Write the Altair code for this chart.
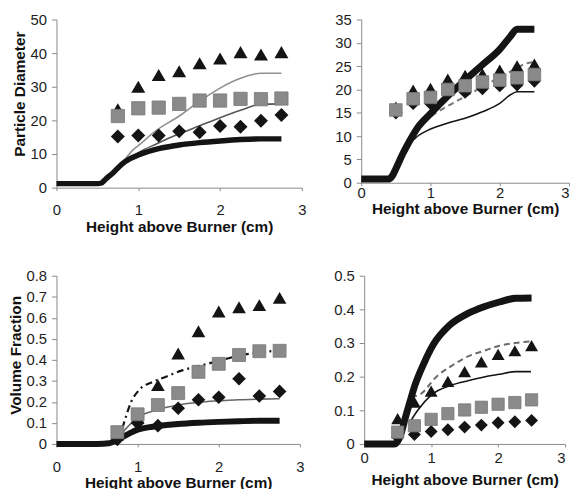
import altair as alt
import pandas as pd

# ---------------- data ----------------
X_A = [0.75, 1.0, 1.25, 1.5, 1.75, 2.0, 2.25, 2.5, 2.75]
X_B = [0.5, 0.75, 1.0, 1.25, 1.5, 1.75, 2.0, 2.25, 2.5]

# Panel 1: particle diameter (top-left)
p1_tri = [23.3, 30.0, 33.5, 34.6, 37.0, 38.4, 40.3, 39.6, 40.3]
p1_sq = [21.3, 23.6, 23.8, 24.9, 25.9, 25.9, 26.4, 26.3, 26.5]
p1_dia = [15.2, 15.5, 15.5, 16.8, 16.5, 18.3, 18.1, 19.9, 21.6]
p1_thick_x = [0, 0.25, 0.5, 0.55, 0.6, 0.7, 0.8, 0.9, 1.0, 1.25, 1.5, 1.75, 2.0, 2.25, 2.5, 2.75]
p1_thick_y = [1.2, 1.2, 1.2, 1.4, 2.5, 4.6, 7.0, 8.6, 9.7, 11.6, 12.7, 13.4, 13.9, 14.3, 14.5, 14.5]
p1_thinA_x = [0.7, 0.8, 0.93, 1.0, 1.22, 1.5, 1.75, 2.0, 2.25, 2.5, 2.75]
p1_thinA_y = [4.6, 7.3, 11.1, 12.5, 17.0, 21.3, 25.7, 29.6, 32.5, 34.0, 34.0]
p1_thinB_x = [0.7, 0.8, 0.93, 1.0, 1.22, 1.5, 1.75, 2.0, 2.25, 2.5, 2.75]
p1_thinB_y = [4.6, 7.1, 9.3, 10.4, 13.0, 16.0, 18.4, 20.8, 23.0, 24.8, 24.9]

# Panel 2: particle diameter (top-right)
p2_tri = [16.2, 19.8, 20.2, 22.2, 23.0, 23.3, 24.1, 25.0, 25.4]
p2_sq = [15.6, 18.0, 18.3, 20.0, 20.8, 21.6, 22.0, 22.5, 23.2]
p2_dia = [15.0, 17.0, 17.0, 19.3, 19.4, 20.2, 20.8, 21.0, 21.8]
p2_thick_x = [0, 0.25, 0.4, 0.45, 0.5, 0.6, 0.7, 0.8, 1.0, 1.25, 1.5, 1.75, 2.0, 2.15, 2.25, 2.5]
p2_thick_y = [0.8, 0.8, 0.8, 1.5, 3.0, 6.2, 9.0, 11.5, 14.8, 18.6, 22.0, 25.3, 28.6, 31.3, 32.9, 32.9]
p2_dash_x = [0.8, 1.0, 1.15, 1.38, 1.6, 1.8, 2.0, 2.2, 2.37, 2.5]
p2_dash_y = [11.5, 14.2, 15.6, 17.5, 19.3, 21.0, 22.6, 24.2, 25.5, 25.9]
p2_thin_x = [0.6, 0.7, 0.8, 1.0, 1.25, 1.5, 1.75, 2.0, 2.15, 2.25, 2.5]
p2_thin_y = [6.2, 8.3, 9.8, 11.5, 12.8, 13.8, 15.2, 17.0, 18.8, 19.5, 19.5]

# Panel 3: volume fraction (bottom-left)
p3_tri = [0.045, 0.125, 0.28, 0.43, 0.536, 0.63, 0.65, 0.66, 0.695]
p3_sq = [0.056, 0.141, 0.185, 0.242, 0.343, 0.381, 0.423, 0.441, 0.443]
p3_dia = [0.022, 0.10, 0.087, 0.17, 0.21, 0.222, 0.31, 0.228, 0.25]
p3_thick_x = [0, 0.25, 0.5, 0.65, 0.75, 0.9, 1.0, 1.25, 1.5, 1.75, 2.0, 2.25, 2.5, 2.75]
p3_thick_y = [0, 0, 0, 0.003, 0.02, 0.05, 0.068, 0.085, 0.095, 0.101, 0.105, 0.108, 0.11, 0.11]
p3_dd_x = [0.74, 0.8, 0.84, 0.92, 1.02, 1.19, 1.35, 1.55, 1.75, 2.0, 2.25, 2.5, 2.75]
p3_dd_y = [0.0, 0.06, 0.11, 0.2, 0.257, 0.296, 0.32, 0.35, 0.37, 0.395, 0.42, 0.435, 0.445]
p3_thin_x = [0.75, 0.85, 1.0, 1.25, 1.5, 1.75, 2.0, 2.25, 2.5, 2.75]
p3_thin_y = [0.02, 0.07, 0.125, 0.163, 0.185, 0.198, 0.205, 0.21, 0.213, 0.215]

# Panel 4: volume fraction (bottom-right)
p4_tri = [0.075, 0.124, 0.157, 0.186, 0.215, 0.244, 0.266, 0.277, 0.292]
p4_sq = [0.035, 0.054, 0.073, 0.09, 0.101, 0.109, 0.118, 0.123, 0.131]
p4_dia = [0.02, 0.028, 0.037, 0.042, 0.05, 0.056, 0.063, 0.066, 0.07]
p4_thick_x = [0, 0.25, 0.45, 0.5, 0.55, 0.61, 0.68, 0.75, 0.89, 1.03, 1.27, 1.55, 1.79, 2.02, 2.26, 2.5]
p4_thick_y = [0, 0, 0, 0.008, 0.03, 0.075, 0.123, 0.17, 0.239, 0.295, 0.352, 0.388, 0.408, 0.422, 0.433, 0.434]
p4_dash_x = [0.7, 0.84, 1.08, 1.32, 1.55, 1.79, 2.02, 2.26, 2.49]
p4_dash_y = [0.14, 0.148, 0.2, 0.234, 0.26, 0.277, 0.292, 0.3, 0.305]
p4_thin_x = [0.7, 0.8, 1.0, 1.32, 1.55, 1.79, 2.02, 2.26, 2.49]
p4_thin_y = [0.07, 0.1, 0.145, 0.176, 0.188, 0.199, 0.207, 0.215, 0.215]

X_TICKS = [0, 1, 2, 3]
X_TITLE = "Height above Burner (cm)"
BLACK = "#141414"
SQ_GRAY = "#8a8a8a"


def xy_df(xs, ys):
    return pd.DataFrame({"x": xs, "y": ys})


def panel(lines, tri, sq, dia, xs_pts, ydomain, yvalues, width, height,
          ytitle=None, yfmt="d", label_pad=12, title_pad=2, msize=200, title_y=None,
          flush_last=False):
    xaxis_kwargs = dict(values=X_TICKS, format="d", title=X_TITLE,
                        labelPadding=label_pad, titlePadding=title_pad,
                        labelFlush=False, labelOverlap=False, tickSize=3)
    if flush_last:
        xaxis_kwargs["labelAlign"] = {"condition": {"test": "datum.value == 3", "value": "right"},
                                      "value": "center"}
    xenc = alt.X("x:Q", scale=alt.Scale(domain=[0, 3], nice=False),
                 axis=alt.Axis(**xaxis_kwargs))
    if yfmt == "d":
        lexpr = "format(datum.value, 'd')"
    else:
        lexpr = "datum.value == 0 ? '0' : format(datum.value, '.1f')"
    yaxis_kwargs = dict(values=yvalues, labelExpr=lexpr, labelPadding=5,
                        tickSize=5, labelOverlap=False)
    if ytitle:
        yaxis_kwargs["title"] = ytitle
        yaxis_kwargs["titlePadding"] = 3
        if title_y is not None:
            yaxis_kwargs["titleY"] = title_y
    else:
        yaxis_kwargs["title"] = None
    yenc = alt.Y("y:Q", scale=alt.Scale(domain=ydomain, nice=False),
                 axis=alt.Axis(**yaxis_kwargs))

    layers = []
    for (xs, ys, style) in lines:
        layers.append(
            alt.Chart(xy_df(xs, ys)).mark_line(interpolate="monotone", **style)
            .encode(x=xenc, y=yenc)
        )
    layers.append(
        alt.Chart(xy_df(xs_pts, dia)).mark_point(
            shape="diamond", filled=True, color=BLACK, opacity=1, size=msize)
        .encode(x=xenc, y=yenc)
    )
    layers.append(
        alt.Chart(xy_df(xs_pts, tri)).mark_point(
            shape="triangle-up", filled=True, color=BLACK, opacity=1, size=msize)
        .encode(x=xenc, y=yenc)
    )
    layers.append(
        alt.Chart(xy_df(xs_pts, sq)).mark_point(
            shape="square", filled=True, color=SQ_GRAY, opacity=1, size=msize * 0.9,
            stroke="#777777", strokeWidth=0.8)
        .encode(x=xenc, y=yenc)
    )
    return alt.layer(*layers).properties(width=width, height=height)


p1 = panel(
    [(p1_thinA_x, p1_thinA_y, dict(color="#8f8f8f", strokeWidth=1.6)),
     (p1_thinB_x, p1_thinB_y, dict(color="#555555", strokeWidth=1.6)),
     (p1_thick_x, p1_thick_y, dict(color=BLACK, strokeWidth=5.5))],
    p1_tri, p1_sq, p1_dia, X_A, [0, 50], [0, 10, 20, 30, 40, 50], 248, 170,
    ytitle="Particle Diameter", label_pad=12, title_pad=2, msize=200, title_y=75)

p2 = panel(
    [(p2_dash_x, p2_dash_y, dict(color="#777777", strokeWidth=2, strokeDash=[6, 4])),
     (p2_thin_x, p2_thin_y, dict(color=BLACK, strokeWidth=1.6)),
     (p2_thick_x, p2_thick_y, dict(color=BLACK, strokeWidth=7))],
    p2_tri, p2_sq, p2_dia, X_B, [0, 35], [0, 5, 10, 15, 20, 25, 30, 35], 210, 165,
    label_pad=0, title_pad=1, msize=180, flush_last=True)

p3 = panel(
    [(p3_thin_x, p3_thin_y, dict(color="#666666", strokeWidth=1.6)),
     (p3_dd_x, p3_dd_y, dict(color=BLACK, strokeWidth=2.2, strokeDash=[7, 4, 2, 4])),
     (p3_thick_x, p3_thick_y, dict(color=BLACK, strokeWidth=6))],
    p3_tri, p3_sq, p3_dia, X_A, [0, 0.8], [0, 0.1, 0.2, 0.3, 0.4, 0.5, 0.6, 0.7, 0.8],
    246, 170, ytitle="Volume Fraction", yfmt="f", label_pad=13, title_pad=1, msize=190,
    title_y=80)

p4 = panel(
    [(p4_dash_x, p4_dash_y, dict(color="#6a6a6a", strokeWidth=2, strokeDash=[6, 4])),
     (p4_thin_x, p4_thin_y, dict(color=BLACK, strokeWidth=1.6)),
     (p4_thick_x, p4_thick_y, dict(color=BLACK, strokeWidth=7))],
    p4_tri, p4_sq, p4_dia, X_B, [0, 0.5], [0, 0.1, 0.2, 0.3, 0.4, 0.5],
    203, 170, yfmt="f", label_pad=4, title_pad=7, msize=170, flush_last=True)

row1 = alt.hconcat(p1, p2, spacing=28)
row2 = alt.hconcat(p3, p4, spacing=29)

chart = (
    alt.vconcat(row1, row2, spacing=34)
    .properties(padding={"left": 0, "top": 2, "right": 0, "bottom": 0}, background="white")
    .configure_view(stroke=None)
    .configure_axis(
        grid=False,
        domainColor="#8a8a8a",
        tickColor="#8a8a8a",
        labelFont="Liberation Sans",
        labelFontSize=15,
        labelColor="#1e1e1e",
        titleFont="Liberation Sans",
        titleFontSize=15.5,
        titleFontWeight="bold",
        titleColor="#111111",
    )
)

chart.save("out.html", embed_options={"renderer": "svg", "actions": False})
